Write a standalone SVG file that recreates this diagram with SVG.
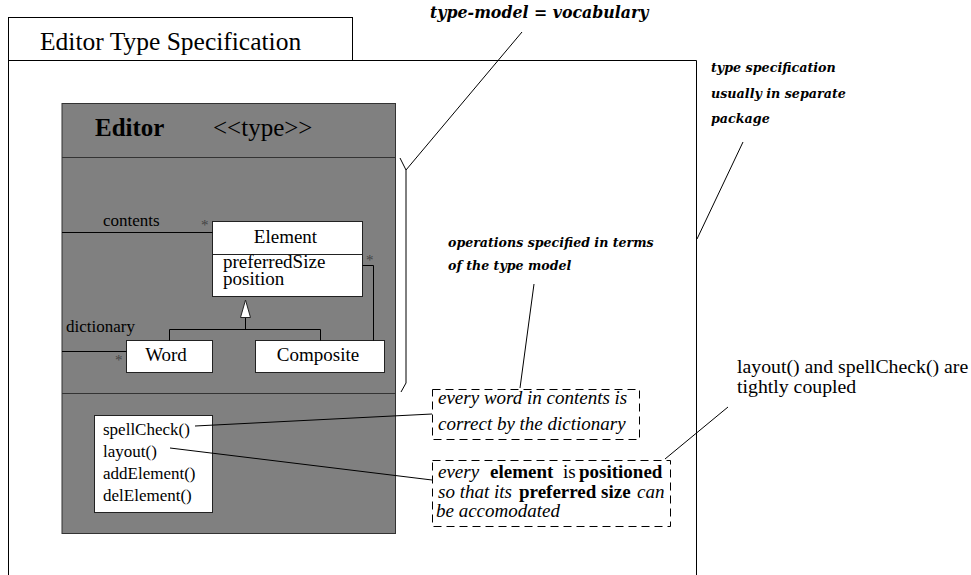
<svg xmlns="http://www.w3.org/2000/svg" width="971" height="575" viewBox="0 0 971 575">
  <style>
    .ln { fill: none; stroke: #000; stroke-width: 1; }
    .tm { font-family: "Liberation Serif", "Times New Roman", serif; fill: #000; }
    .it { font-style: italic; }
    .bd { font-weight: bold; }
    .ann { font-family: "DejaVu Serif", "Liberation Serif", serif; font-weight: bold; font-style: italic; fill: #000; }
    .cls { fill: #fff; stroke: #222; stroke-width: 1; }
    .note { fill: #fff; stroke: #000; stroke-width: 1; stroke-dasharray: 8 5; }
    .star { font-family: "Liberation Serif", serif; font-size: 15px; fill: #444; }
  </style>
  <rect width="971" height="575" fill="#fff"/>

  <!-- package frame with its name tab -->
  <g id="package">
    <rect x="8.5" y="17.5" width="344" height="43" fill="#fff" stroke="#000"/>
    <path class="ln" d="M8.5 60.5 V575 M8.5 60.5 H696.5 V575"/>
    <text class="tm" x="40" y="50" font-size="25.5">Editor Type Specification</text>
  </g>

  <!-- Editor type box -->
  <g id="editor">
    <rect x="62" y="103.5" width="333.5" height="430" fill="#808080" stroke="#333"/>
    <path d="M62 157.5 H395.5 M62 393.5 H395.5" stroke="#333" fill="none"/>
    <text class="tm bd" x="95" y="136" font-size="25">Editor</text>
    <text class="tm" x="213" y="136" font-size="25">&lt;&lt;type&gt;&gt;</text>
  </g>

  <g id="element">
    <rect class="cls" x="212.5" y="221.5" width="150" height="75"/>
    <line x1="212.5" y1="254.5" x2="362.5" y2="254.5" stroke="#222"/>
    <text class="tm" x="285.5" y="243" font-size="19" text-anchor="middle">Element</text>
    <text class="tm" x="223" y="268" font-size="19">preferredSize</text>
    <text class="tm" x="223" y="285" font-size="19">position</text>
  </g>

  <g id="word">
    <rect class="cls" x="126.5" y="340.5" width="86" height="32"/>
    <text class="tm" x="166" y="361" font-size="19" text-anchor="middle">Word</text>
  </g>

  <g id="composite">
    <rect class="cls" x="255.5" y="340.5" width="129" height="32"/>
    <text class="tm" x="318" y="361" font-size="19" text-anchor="middle">Composite</text>
  </g>

  <g id="operations">
    <rect class="cls" x="94.5" y="415.5" width="118" height="97"/>
    <text class="tm" x="103" y="435" font-size="17">spellCheck()</text>
    <text class="tm" x="103" y="456.5" font-size="17">layout()</text>
    <text class="tm" x="103" y="478.5" font-size="17">addElement()</text>
    <text class="tm" x="103" y="500.5" font-size="17">delElement()</text>
  </g>

  <!-- constraint notes -->
  <g id="note-spellcheck">
    <rect class="note" x="432.5" y="389.5" width="207" height="50"/>
    <text class="tm it" x="438" y="404" font-size="19">every word in contents is</text>
    <text class="tm it" x="438" y="430" font-size="19">correct by the dictionary</text>
  </g>

  <g id="note-layout">
    <rect class="note" x="432.5" y="460.5" width="238" height="66"/>
    <text class="tm" font-size="19" y="478"><tspan class="it" x="438">every</tspan><tspan class="bd" x="490">element</tspan><tspan x="563">is</tspan><tspan class="bd" x="579">positioned</tspan></text>
    <text class="tm" font-size="19" y="498"><tspan class="it" x="438">so that its</tspan><tspan class="bd" x="519">preferred size</tspan><tspan class="it" x="637">can</tspan></text>
    <text class="tm it" x="436" y="517" font-size="19">be accomodated</text>
  </g>

  <!-- free annotations -->
  <g id="annotations">
    <text class="ann" x="430" y="18" font-size="15.8">type-model = vocabulary</text>
    <text class="ann" x="448" y="247" font-size="12.6">operations specified in terms</text>
    <text class="ann" x="448" y="270" font-size="12.6">of the type model</text>
    <text class="ann" x="711" y="72" font-size="12.7">type specification</text>
    <text class="ann" x="711" y="97.5" font-size="12.7">usually in separate</text>
    <text class="ann" x="711" y="123" font-size="12.7">package</text>
    <text class="tm" x="737" y="373" font-size="19.8">layout() and spellCheck() are</text>
    <text class="tm" x="737" y="393" font-size="19.8">tightly coupled</text>
  </g>

  <!-- associations, generalization and leader lines -->
  <g id="connectors">
    <path class="ln" d="M62 232.5 H212.5" stroke="#222"/>
    <path class="ln" d="M62 351.5 H126.5" stroke="#222"/>
    <path class="ln" d="M362.5 265.5 H373.5 V340.5" stroke="#222"/>
    <path class="ln" d="M169.5 340.5 V329.5 H320.5 V340.5 M245.5 329.5 V317.5" stroke="#222"/>
    <polygon points="245.5,300 240.5,317.5 250.5,317.5" fill="#fff" stroke="#222"/>
    <text class="star" x="201" y="230">*</text>
    <text class="star" x="366" y="265">*</text>
    <text class="star" x="115" y="365">*</text>
    <text class="tm" x="103" y="226" font-size="17">contents</text>
    <text class="tm" x="66" y="332" font-size="17">dictionary</text>

    <path class="ln" d="M400 158 L406 170 V383 L401 392"/>
    <path class="ln" d="M406 170 L522 32"/>
    <path class="ln" d="M534 284 L520 388"/>
    <path class="ln" d="M743 142 L697 239"/>
    <path class="ln" d="M728 407 L665 459"/>
    <path class="ln" d="M195 426 L432 414"/>
    <path class="ln" d="M170 448 L432 480"/>
  </g>
</svg>
